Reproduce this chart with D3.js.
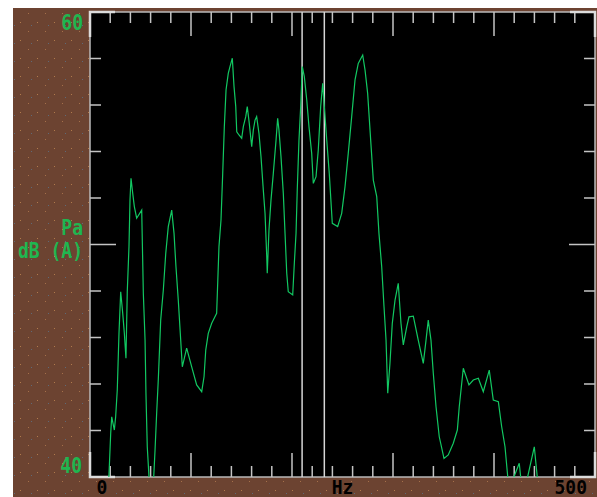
<!DOCTYPE html>
<html lang="en">
<head>
<meta charset="utf-8">
<title>Spectrum dB(A)</title>
<script src="https://cdn.jsdelivr.net/npm/d3@7/dist/d3.min.js"></script>
<style>
  body { margin: 0; background: #fff; }
  svg { display: block; }
  .lbl { font-family: "DejaVu Sans Mono", monospace; font-size: 18px; font-weight: bold; }
</style>
</head>
<body>
<script>
// spectrum (frequency in Hz, level in dB(A))
var freqs = [18.5, 20.5, 21.5, 24.1, 25.4, 27.0, 28.7, 30.4, 32.4, 34.0, 35.6, 36.9, 38.6, 39.6, 40.6, 42.3, 43.9, 46.2, 51.2, 52.8,
  54.5, 55.4, 56.7, 58.4, 60.9, 63.1, 64.4, 66.0, 67.6, 70.0, 72.6, 75.0, 77.5, 80.9, 83.2, 85.1, 87.4, 89.8, 91.4, 95.7,
  100.7, 105.6, 110.6, 112.9, 114.6, 117.1, 120.5, 125.4, 127.7, 129.7, 131.4, 133.0, 134.7, 136.9, 138.6, 140.9, 142.6, 144.3, 145.3, 147.5,
  150.2, 151.8, 154.2, 155.7, 157.7, 160.1, 161.7, 163.4, 165.0, 167.3, 169.3, 171.6, 173.3, 175.0, 175.5, 177.2, 179.2, 181.5, 184.2, 185.8,
  187.1, 189.1, 191.4, 193.1, 194.8, 196.3, 200.7, 202.3, 204.0, 205.2, 206.9, 208.6, 210.2, 212.2, 214.6, 216.8, 219.5, 221.1, 223.8, 226.0,
  228.4, 230.4, 232.0, 234.4, 236.9, 239.9, 245.2, 249.2, 252.5, 255.7, 259.1, 262.4, 265.6, 270.0, 272.3, 274.9, 277.9, 280.5, 283.9, 286.1,
  288.8, 291.1, 293.1, 294.8, 297.0, 299.3, 302.0, 305.2, 307.9, 310.2, 313.6, 315.8, 320.1, 325.0, 330.0, 332.7, 334.9, 337.6, 339.9, 342.6,
  345.8, 350.5, 354.7, 359.7, 363.7, 365.6, 369.6, 375.2, 379.5, 384.5, 389.4, 395.3, 399.3, 404.3, 407.6, 410.9, 413.6, 416.8, 419.8, 425.0,
  426.4, 429.7, 433.3, 439.9, 442.8, 445.5];
var levels = [39.8, 41.88, 42.59, 42.02, 42.59, 43.74, 46.18, 47.97, 47.04, 46.18, 45.11, 47.97, 49.91, 51.91, 52.85, 52.20, 51.63, 51.13, 51.48, 47.90,
  45.89, 43.60, 41.30, 40.01, 39.2, 40.01, 41.16, 42.74, 44.17, 46.75, 48.04, 49.62, 50.77, 51.48, 50.48, 49.05, 47.61, 45.89, 44.74, 45.54,
  44.74, 43.96, 43.67, 44.31, 45.46, 46.18, 46.61, 47.04, 49.91, 51.05, 53.06, 55.07, 56.65, 57.36, 57.65, 58.01, 56.79, 55.93, 54.85, 54.71,
  54.57, 55.07, 55.50, 55.93, 55.21, 54.21, 54.92, 55.35, 55.50, 54.78, 53.78, 52.34, 51.34, 49.48, 48.76, 50.62, 51.91, 53.06, 54.49, 55.43,
  54.92, 53.78, 52.20, 50.48, 48.76, 47.97, 47.83, 49.19, 50.48, 52.34, 54.49, 55.93, 57.65, 57.22, 56.22, 55.07, 53.92, 52.63, 52.92, 54.06,
  55.93, 56.93, 55.93, 54.49, 53.06, 50.91, 50.77, 51.34, 52.49, 53.92, 55.50, 57.08, 57.79, 58.15, 57.51, 56.50, 54.49, 52.77, 52.06, 50.48,
  49.05, 47.32, 45.89, 43.60, 44.89, 46.61, 47.61, 48.33, 46.61, 45.68, 46.46, 46.89, 46.92, 45.89, 44.89, 45.89, 46.75, 45.89, 44.46, 43.02,
  41.73, 40.80, 40.95, 41.45, 42.02, 43.02, 44.68, 43.96, 44.17, 44.25, 43.67, 44.60, 43.31, 43.24, 42.16, 41.30, 40.01, 39.2, 40.01, 40.59,
  40.01, 39.2, 40.01, 41.30, 40.01, 39.0];

var cursors = [210, 232];          // marker lines, Hz
var xDomain = [0, 500];
var yDomain = [40, 60];
var xTickLabels = ["0", "Hz", "500"];
var xTickLabelAt = [0, 250, 500];
var yTickLabels = ["60", "40"];
var unitLabels = ["Pa", "dB (A)"];

(function() {
var W = 597, H = 497;
var pL = 90, pR = 595, pT = 12, pB = 477;

var svg = d3.select("body").append("svg").attr("width", W).attr("height", H);

// speckled brown panel
var defs = svg.append("defs");
var pat = defs.append("pattern").attr("id", "speck")
    .attr("patternUnits", "userSpaceOnUse").attr("width", 17).attr("height", 18);
pat.append("rect").attr("width", 17).attr("height", 18).attr("fill", "#6c4331");
pat.append("rect").attr("x", 3).attr("y", 4).attr("width", 1).attr("height", 1).attr("fill", "#b07a4c");
pat.append("rect").attr("x", 11).attr("y", 13).attr("width", 1).attr("height", 1).attr("fill", "#a5704a");
pat.append("rect").attr("x", 14).attr("y", 7).attr("width", 1).attr("height", 1).attr("fill", "#5f6a78");

svg.append("rect").attr("x", 13).attr("y", 8).attr("width", W - 13).attr("height", H - 8)
    .attr("fill", "url(#speck)");

defs.append("clipPath").attr("id", "plotclip")
  .append("rect").attr("x", pL).attr("y", pT).attr("width", pR - pL).attr("height", pB - pT);

var x = d3.scaleLinear().domain(xDomain).range([pL, pR]);
var y = d3.scaleLinear().domain(yDomain).range([pB, pT]);

svg.append("rect").attr("x", pL).attr("y", pT).attr("width", pR - pL).attr("height", pB - pT)
    .attr("fill", "#000").attr("stroke", "#b9b9b9").attr("stroke-width", 1.5);

var g = svg.append("g").attr("stroke", "#c4c4c4").attr("stroke-width", 1.5);

// frequency ticks top and bottom
x.ticks(20).forEach(function(f) {
  if (f === 0 || f === 500) return;
  var len = f % 100 === 0 ? 24 : (f % 50 === 0 ? 16 : 11);
  g.append("line").attr("x1", x(f)).attr("x2", x(f)).attr("y1", pT).attr("y2", pT + len);
  g.append("line").attr("x1", x(f)).attr("x2", x(f)).attr("y1", pB).attr("y2", pB - len);
});

// level ticks left and right
y.ticks(10).forEach(function(v) {
  if (v === 40 || v === 60) return;
  var len = v % 10 === 0 ? 26 : 11;
  g.append("line").attr("y1", y(v)).attr("y2", y(v)).attr("x1", pL).attr("x2", pL + len);
  g.append("line").attr("y1", y(v)).attr("y2", y(v)).attr("x1", pR).attr("x2", pR - len);
});

// corner brackets
var c = svg.append("g").attr("stroke", "#dcdcdc").attr("stroke-width", 2.5).attr("fill", "none");
[[pL, pT, 1, 1], [pR, pT, -1, 1], [pL, pB, 1, -1], [pR, pB, -1, -1]].forEach(function(k) {
  c.append("path").attr("d", "M" + (k[0] + 25 * k[2]) + "," + k[1] + "H" + k[0] + "V" + (k[1] + 25 * k[3]));
});

// cursor markers
svg.selectAll("line.cursor").data(cursors).enter().append("line")
    .attr("class", "cursor")
    .attr("x1", function(d) { return x(d); }).attr("x2", function(d) { return x(d); })
    .attr("y1", pT).attr("y2", pB)
    .attr("stroke", "#d6d6d6").attr("stroke-width", 1.5);

// spectrum line
var pts = freqs.map(function(f, i) { return [f, levels[i]]; });
svg.append("path").datum(pts)
    .attr("clip-path", "url(#plotclip)")
    .attr("fill", "none").attr("stroke", "#12c862").attr("stroke-width", 1.2)
    .attr("d", d3.line().x(function(d) { return x(d[0]); }).y(function(d) { return y(d[1]); }));

// labels
function label(txt, px, py, anchor, color, sy) {
  svg.append("text").attr("class", "lbl")
    .attr("transform", "translate(" + px + "," + py + ") scale(1," + sy + ")")
    .attr("text-anchor", anchor).attr("fill", color).text(txt);
}
label(yTickLabels[0], 83, 30, "end", "#1fb650", 1.2);
label(yTickLabels[1], 82, 473, "end", "#1fb650", 1.2);
label(unitLabels[0], 83, 235, "end", "#1fb650", 1.2);
label(unitLabels[1], 83, 258, "end", "#1fb650", 1.2);
xTickLabels.forEach(function(t, i) {
  var px = x(xTickLabelAt[i]);
  var anchor = "middle";
  if (i === 0) px = px + 12;
  if (i === 2) { px = px - 8; anchor = "end"; }
  label(t, px, 494, anchor, "#000", 1.05);
});
})();
</script>
</body>
</html>
